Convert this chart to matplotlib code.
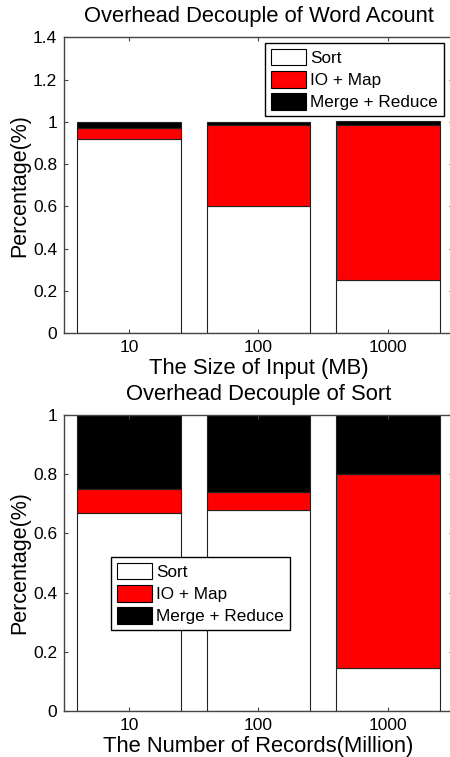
import matplotlib
matplotlib.use("Agg")
import matplotlib.pyplot as plt
import numpy as np

plt.rcParams['font.family'] = ['Liberation Sans', 'DejaVu Sans']

categories = ["10", "100", "1000"]
series_names = ["Sort", "IO + Map", "Merge + Reduce"]

# Word count (top)
wc_sort = [0.92, 0.60, 0.25]
wc_io_map = [0.05, 0.385, 0.735]
wc_merge_reduce = [0.03, 0.015, 0.02]

# Sort (bottom)
st_sort = [0.67, 0.68, 0.145]
st_io_map = [0.08, 0.06, 0.655]
st_merge_reduce = [0.25, 0.26, 0.20]

colors = ["white", "#ff0000", "black"]

W, H = 450, 757
fig = plt.figure(figsize=(W / 100, H / 100), dpi=100)

def frac(left, top, right, bottom):
    return [left / W, 1 - bottom / H, (right - left) / W, (bottom - top) / H]

ax1 = fig.add_axes(frac(64, 37.5, 453, 333))
ax2 = fig.add_axes(frac(64, 415, 453, 711))

def draw(ax, sort, io, mr, ylim, yticks, title, xlabel, leg_anchor):
    x = np.arange(1, len(categories) + 1)
    bottoms = np.zeros(len(categories))
    for vals, c, name in zip([sort, io, mr], colors, series_names):
        ax.bar(x, vals, width=0.8, bottom=bottoms, color=c,
               edgecolor="#222222", linewidth=0.8, label=name)
        bottoms = bottoms + np.array(vals)
    ax.set_xlim(0.5, 3.5)
    ax.set_ylim(*ylim)
    ax.set_xticks(x)
    ax.set_xticklabels(categories)
    ax.set_yticks(yticks)
    ax.set_yticklabels([("%g" % t) for t in yticks])
    ax.tick_params(direction="in", top=True, right=True, length=3,
                   width=0.8, color="#444444", labelsize=12.5)
    ax.tick_params(axis="y", pad=5)
    ax.tick_params(axis="x", pad=5)
    for s in ax.spines.values():
        s.set_color("#444444")
        s.set_linewidth(1.0)
    ax.set_title(title, fontsize=15.8, pad=11)
    ax.set_xlabel(xlabel, fontsize=15.8, labelpad=2)
    ax.set_ylabel("Percentage(%)", fontsize=15.5, labelpad=2)
    leg = ax.legend(loc="upper left", bbox_to_anchor=leg_anchor,
                    borderaxespad=0, fancybox=False, framealpha=1,
                    edgecolor="black", fontsize=12.3, handlelength=2.05,
                    handleheight=1.1, labelspacing=0.3, handletextpad=0.25,
                    borderpad=0.35)
    leg.get_frame().set_linewidth(1.0)
    for p in leg.get_patches():
        p.set_edgecolor("black")
        p.set_linewidth(0.8)

draw(ax1, wc_sort, wc_io_map, wc_merge_reduce, (0, 1.4),
     [0, 0.2, 0.4, 0.6, 0.8, 1.0, 1.2, 1.4],
     "Overhead Decouple of Word Acount", "The Size of Input (MB)",
     ((265 - 64) / 389, (333 - 43) / 295.5))
draw(ax2, st_sort, st_io_map, st_merge_reduce, (0, 1.0),
     [0, 0.2, 0.4, 0.6, 0.8, 1.0],
     "Overhead Decouple of Sort", "The Number of Records(Million)",
     ((111 - 64) / 389, (711 - 557) / 296))

fig.savefig("out.png", dpi=100)
